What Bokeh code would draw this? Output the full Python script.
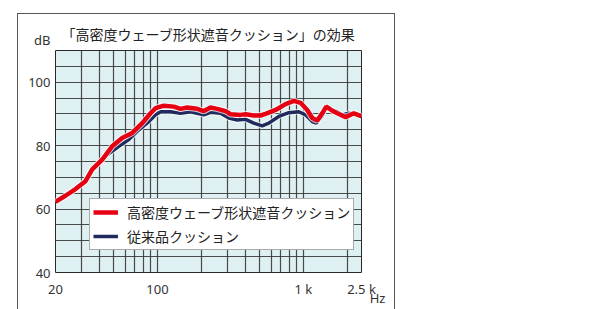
from bokeh.plotting import figure
from bokeh.models import FixedTicker, Range1d, Legend, Title
from bokeh.embed import file_html
from bokeh.resources import INLINE

# ---------------- data ----------------
title_text = "「高密度ウェーブ形状遮音クッション」の効果"
series_new_name = "高密度ウェーブ形状遮音クッション"
series_old_name = "従来品クッション"
y_unit = "dB"
x_unit = "Hz"

new_freq = [20, 20.5, 23.4, 27.4, 32.1, 35.7, 41.8, 48.9, 57.3, 67.1, 78.6, 89.6, 96.9,
            104.9, 110.5, 129.4, 143.8, 159.9, 187.2, 207.6, 230.8, 256.6, 292.6, 316.6,
            370.6, 401, 457, 508, 550, 644, 754, 860, 956, 1062, 1149, 1244, 1346, 1434,
            1576, 1748, 1944, 2216, 2463, 2500]
new_db = [62.3, 62.6, 64.2, 66.3, 68.8, 72.5, 75.6, 79.8, 82.4, 84.0, 87.1, 90.2, 91.8,
          92.3, 92.6, 92.3, 91.6, 92.0, 91.6, 90.9, 92.0, 91.6, 90.9, 89.9,
          89.7, 89.9, 89.5, 89.5, 90.0, 91.25, 93.1, 94.1, 93.5, 91.25, 88.7, 87.9, 90.2, 92.3,
          91.0, 90.0, 89.0, 90.2, 89.4, 89.3]

old_freq = [20, 20.5, 23.4, 27.4, 32.1, 35.7, 41.8, 44.0, 54.3, 63.6, 74.5, 87.2, 96.9,
            104.9, 122.8, 143.8, 168.4, 207.6, 230.8, 270.4, 308.2, 352, 401, 457, 522,
            579, 678, 794, 930, 1034, 1149, 1224, 1346, 1434, 1576, 1706, 1846, 2048,
            2276, 2463, 2500]
old_db = [62.3, 62.6, 64.2, 66.3, 68.8, 72.5, 75.6, 76.7, 79.8, 81.9, 85.0, 87.6, 89.7,
          90.7, 90.7, 90.2, 90.7, 89.7, 90.5, 90.2, 88.7, 88.1, 88.3, 87.1, 86.25,
          87.1, 89.2, 90.4, 90.7, 89.7, 87.6, 87.1, 89.4, 92.5, 91.25, 90.7, 89.7, 90.2,
          90.0, 89.4, 89.3]

x_tick_values = [20, 100, 1000, 2500]
x_tick_labels = ["20", "100", "1 k", "2.5 k"]
y_tick_values = [40, 60, 80, 100, 110]
y_tick_labels = ["40", "60", "80", "100", ""]
x_grid_values = [30, 40, 50, 60, 70, 80, 90, 100, 200, 300, 400, 500, 600, 700, 800,
                 900, 1000, 2000]
y_grid_values = [45, 50, 55, 60, 65, 70, 75, 80, 85, 90, 95, 100, 105]

# ---------------- figure ----------------
p = figure(width=616, height=309, x_axis_type="log",
           x_range=Range1d(20, 2500), y_range=Range1d(40, 110),
           output_backend="svg", toolbar_location=None,
           min_border_left=55, min_border_right=255, min_border_top=50,
           min_border_bottom=35)
p.border_fill_color = None
p.background_fill_color = "#dff0f2"
p.outline_line_color = "#2a2a2a"
p.outline_line_width = 1
# outer frame of the figure panel (drawn as CSS background lines)
p.styles = {
    "background-color": "white",
    "background-image": "linear-gradient(#555,#555), linear-gradient(#555,#555), linear-gradient(#555,#555)",
    "background-size": "1px 400px, 378px 1px, 1px 400px",
    "background-position": "17px 13px, 17px 13px, 394px 13px",
    "background-repeat": "no-repeat",
}

GRID = "#383838"
p.xgrid.ticker = FixedTicker(ticks=x_grid_values)
p.ygrid.ticker = FixedTicker(ticks=y_grid_values)
for g in (p.xgrid, p.ygrid):
    g.grid_line_color = GRID
    g.grid_line_width = 1.2
    g.grid_line_alpha = 0.9

num_font = "Noto Sans"


def style_axis(ax):
    ax.axis_line_color = None
    ax.major_tick_line_color = None
    ax.minor_tick_line_color = None
    ax.major_tick_out = 0
    ax.major_tick_in = 0
    ax.minor_tick_out = 0
    ax.minor_tick_in = 0
    ax.major_label_text_font = num_font
    ax.major_label_text_font_size = "13px"
    ax.major_label_text_color = "#333333"


for ax in (p.xaxis[0], p.yaxis[0]):
    style_axis(ax)

p.xaxis.ticker = FixedTicker(ticks=x_tick_values)
p.xaxis.major_label_overrides = {v: s for v, s in zip(x_tick_values, x_tick_labels)}
p.xaxis.major_label_standoff = 7
# unit "Hz" as the x-axis title, pushed to the right end with no-break spaces
p.xaxis.axis_label = "\u00a0" * 100 + x_unit
p.xaxis.axis_label_text_font = num_font
p.xaxis.axis_label_text_font_size = "13px"
p.xaxis.axis_label_text_font_style = "normal"
p.xaxis.axis_label_text_color = "#333333"
p.xaxis.axis_label_standoff = -12

y_over = {v: s for v, s in zip(y_tick_values, y_tick_labels)}
y_over[y_tick_values[-1]] = y_unit + "\n"
p.yaxis.ticker = FixedTicker(ticks=y_tick_values)
p.yaxis.major_label_overrides = y_over
p.yaxis.major_label_standoff = 5

RED = "#e50012"
NAVY = "#1f2b5c"
p.line(old_freq, old_db, line_color="white", line_width=5.5, line_alpha=0.7)
r_old = p.line(old_freq, old_db, line_color=NAVY, line_width=3.5)
p.line(new_freq, new_db, line_color="white", line_width=6.5, line_alpha=0.7)
r_new = p.line(new_freq, new_db, line_color=RED, line_width=4.5)

legend = Legend(items=[(series_new_name, [r_new]), (series_old_name, [r_old])],
                location=(34, 22))
legend.label_text_font = "Noto Sans CJK JP"
legend.label_text_font_size = "14px"
legend.label_text_color = "#222222"
legend.glyph_width = 25
legend.glyph_height = 20
legend.label_height = 20
legend.label_standoff = 9
legend.spacing = 4
legend.padding = 3
legend.margin = 0
legend.border_line_color = "#555555"
legend.border_line_width = 1
legend.background_fill_color = "white"
legend.background_fill_alpha = 1
p.add_layout(legend, "center")

p.add_layout(Title(text=title_text, align="center", text_font="Noto Sans CJK JP",
                   text_font_size="14px", text_font_style="normal",
                   text_color="#222222", standoff=14), "above")

open("out.html", "w").write(file_html(p, INLINE))
